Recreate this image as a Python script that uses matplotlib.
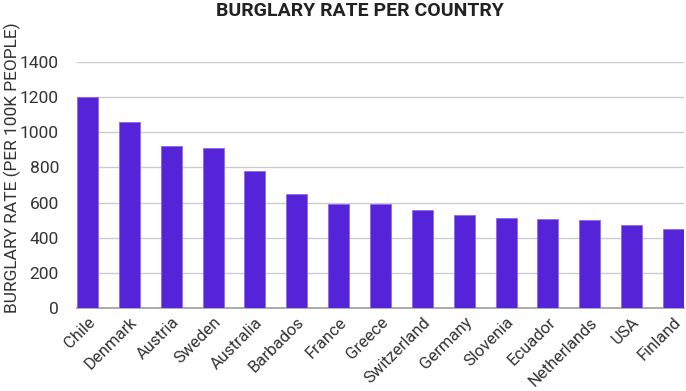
import matplotlib.pyplot as plt

countries = ['Chile', 'Denmark', 'Austria', 'Sweden', 'Australia', 'Barbados',
             'France', 'Greece', 'Switzerland', 'Germany', 'Slovenia', 'Ecuador',
             'Netherlands', 'USA', 'Finland']
rates = [1200, 1059, 923, 909, 781, 649, 592, 593, 556, 527, 514, 506, 502, 472, 451]
yticks = [0, 200, 400, 600, 800, 1000, 1200, 1400]

plt.rcParams['font.family'] = ['Roboto', 'DejaVu Sans']

fig = plt.figure(figsize=(6.86, 3.91), dpi=100)
ax = fig.add_axes([77 / 686, 1 - 307.7 / 391, 607 / 686, 245.4 / 391])

x = range(len(countries))
ax.bar(x, rates, width=0.5, color='#5523d8', edgecolor='#8a6ae6', linewidth=0.6, zorder=3)

ax.set_ylim(0, 1400)
ax.set_xlim(-0.25, len(countries) - 0.75)
ax.set_yticks(yticks)
ax.set_yticklabels([str(t) for t in yticks], fontsize=12.5, color='#333333')
ax.set_xticks(list(x))
ax.set_xticklabels(countries, rotation=45, ha='right', rotation_mode='anchor',
                   fontsize=12, color='#333333')
ax.tick_params(length=0, pad=13)
ax.tick_params(axis='x', pad=5)

ax.grid(axis='y', color='#cccccc', linewidth=1, zorder=0)
for s in ['top', 'right', 'left']:
    ax.spines[s].set_visible(False)
ax.spines['bottom'].set_color('#9e9e9e')
ax.spines['bottom'].set_linewidth(1.2)

fig.text(12 / 686, 1 - 168 / 391, 'BURGLARY RATE (PER 100K PEOPLE)', rotation=90,
         ha='center', va='center', fontsize=12.5, color='#333333')
fig.text(0.525, 0.972, 'BURGLARY RATE PER COUNTRY', ha='center', va='center',
         fontsize=14, fontweight='bold', color='#222222')

fig.savefig('out.png', dpi=100)
